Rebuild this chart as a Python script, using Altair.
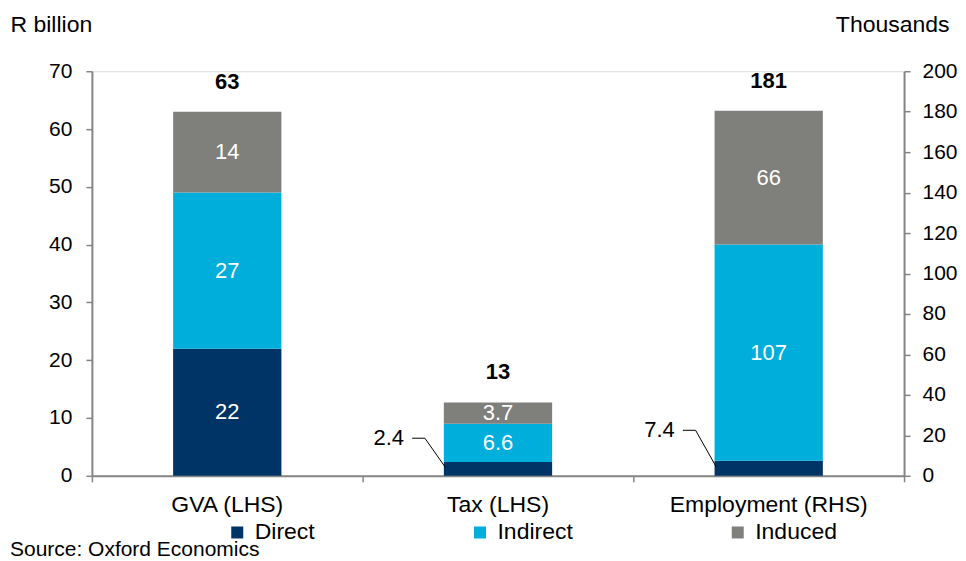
import altair as alt
import pandas as pd

# ---------------- data ----------------
categories = ["GVA (LHS)", "Tax (LHS)", "Employment (RHS)"]
components = ["Direct", "Indirect", "Induced"]
direct = [22, 2.4, 7.4]
indirect = [27, 6.6, 107]
induced = [14, 3.7, 66]
totals = [63, 13, 181]
axis_side = ["left", "left", "right"]
colors = ["#003366", "#00AEDB", "#7F7F7B"]
left_ticks = [0, 10, 20, 30, 40, 50, 60, 70]
right_ticks = [0, 20, 40, 60, 80, 100, 120, 140, 160, 180, 200]

# callout (leader-line) labels for thin "Direct" segments: label height in axis units
callout_y = {"Tax (LHS)": 6.5, "Employment (RHS)": 22.5}

FONT = "Liberation Sans"
GREY = "#858585"
BAR_HALF = 0.2
PLOT_W, PLOT_H = 813, 405

# ---------------- tables ----------------
series = [direct, indirect, induced]
rows = []
for i, cat in enumerate(categories):
    for j, comp in enumerate(components):
        v = series[j][i]
        rows.append({
            "category": cat, "idx": i, "component": comp, "order": j,
            "value": v, "label": f"{v:g}", "side": axis_side[i],
            "callout": bool(comp == "Direct" and cat in callout_y),
        })
seg = pd.DataFrame(rows)

tot = pd.DataFrame({
    "category": categories,
    "idx": list(range(len(categories))),
    "top": [direct[i] + indirect[i] + induced[i] for i in range(len(categories))],
    "label": [str(t) for t in totals],
    "side": axis_side,
})

cats = pd.DataFrame({"category": categories, "idx": list(range(len(categories))),
                     "base": [0] * len(categories)})

lead_rows, lab_rows = [], []
for cat, cy in callout_y.items():
    i = categories.index(cat)
    left = i + 0.5 - BAR_HALF
    pts = [(left - 0.117, cy), (left - 0.07, cy), (left + 0.006, direct[i] * 0.6)]
    for k, (lx, ly) in enumerate(pts):
        lead_rows.append({"category": cat, "k": k, "lx": lx, "ly": ly, "side": axis_side[i]})
    lab_rows.append({"category": cat, "tx": left - 0.147, "ty": cy,
                     "label": f"{direct[i]:g}", "side": axis_side[i]})
leads = pd.DataFrame(lead_rows)
labs = pd.DataFrame(lab_rows)

# ---------------- scales / axes ----------------
n = len(categories)
xscale = alt.Scale(domain=[0, n], nice=False, zero=False)
# x axis: domain line + ticks at the category boundaries (names drawn as text marks)
xaxis = alt.Axis(
    orient="bottom", values=list(range(n + 1)), labels=False, title=None,
    grid=False, tickSize=6, tickWidth=1.5, tickColor=GREY,
    domainColor=GREY, domainWidth=2,
)

color_scale = alt.Scale(domain=components, range=colors)
legend = alt.Legend(
    orient="none", legendX=134, legendY=450, direction="horizontal",
    title=None, symbolType="square", symbolSize=144,
    symbolStrokeWidth=0, symbolOpacity=1, labelFontSize=23,
    labelOffset=6, columnPadding=153, labelColor="black", labelFont=FONT,
)


def X(field):
    return alt.X(field, scale=xscale, axis=xaxis)


def side_layer(side, domain, ticks, orient, title, title_x, title_align, lab_pad):
    yscale = alt.Scale(domain=domain, nice=False, zero=True)
    yaxis = alt.Axis(
        orient=orient, values=ticks, title=title, titleAngle=0, titleX=title_x,
        titleY=-40, titleAlign=title_align, titleBaseline="alphabetic",
        titleFontSize=23, titleFontWeight="normal", titleColor="black",
        labelFontSize=21, labelColor="black", labelPadding=lab_pad,
        tickSize=6, tickWidth=1.5, tickColor=GREY, domainColor=GREY,
        domainWidth=2, grid=False,
    )

    def Y(field):
        # same axis definition on every layer of this side, so they merge into one axis
        return alt.Y(field, scale=yscale, axis=yaxis)

    base = (
        alt.Chart(seg)
        .transform_stack(stack="value", groupby=["category"], as_=["y0", "y1"],
                         sort=[alt.SortField("order", order="ascending")])
        .transform_filter(alt.datum.side == side)
        .transform_calculate(
            x0=f"datum.idx + 0.5 - {BAR_HALF}",
            x1=f"datum.idx + 0.5 + {BAR_HALF}",
            xc="datum.idx + 0.5",
            mid="(datum.y0 + datum.y1) / 2",
        )
    )
    bars = base.mark_bar().encode(
        x=X("x0:Q"), x2="x1:Q",
        y=Y("y0:Q"), y2="y1:Q",
        color=alt.Color("component:N", scale=color_scale, legend=legend),
    )
    seg_text = base.transform_filter(alt.datum.callout == False).mark_text(
        color="white", fontSize=22, baseline="middle", align="center", font=FONT
    ).encode(x=X("xc:Q"), y=Y("mid:Q"), text="label:N")
    tot_text = (
        alt.Chart(tot)
        .transform_filter(alt.datum.side == side)
        .transform_calculate(xc="datum.idx + 0.5")
        .mark_text(fontSize=22, fontWeight="bold", color="black", dy=-23,
                   baseline="alphabetic", align="center", font=FONT)
        .encode(x=X("xc:Q"), y=Y("top:Q"), text="label:N")
    )
    lead = (
        alt.Chart(leads)
        .transform_filter(alt.datum.side == side)
        .mark_line(color="black", strokeWidth=1)
        .encode(x=X("lx:Q"), y=Y("ly:Q"), order="k:Q", detail="category:N")
    )
    lab = (
        alt.Chart(labs)
        .transform_filter(alt.datum.side == side)
        .mark_text(fontSize=22, color="black", align="right", baseline="middle", font=FONT)
        .encode(x=X("tx:Q"), y=Y("ty:Q"), text="label:N")
    )
    parts = [bars, seg_text, tot_text, lead, lab]
    if side == "left":
        cat_text = (
            alt.Chart(cats)
            .transform_calculate(xc="datum.idx + 0.5")
            .mark_text(fontSize=23, color="black", align="center", baseline="middle",
                       dy=29, font=FONT)
            .encode(x=X("xc:Q"), y=Y("base:Q"), text="category:N")
        )
        parts.append(cat_text)
    return alt.layer(*parts)


left_layer = side_layer("left", [0, 70], left_ticks, "left", "R billion", -82, "left", 14)
right_layer = side_layer("right", [0, 200], right_ticks, "right", "Thousands", 45, "right", 12)

chart = (
    alt.layer(left_layer, right_layer)
    .resolve_scale(y="independent")
    .properties(
        width=PLOT_W, height=PLOT_H,
        padding={"left": 2, "top": 5, "right": 0, "bottom": 0},
        title=alt.TitleParams(
            "Source: Oxford Economics", orient="bottom", anchor="start",
            frame="bounds", fontSize=21, fontWeight="normal", color="black",
            font=FONT, offset=-6,
        ),
    )
    .configure_view(strokeWidth=0, stroke="transparent")
    .configure(font=FONT)
)

chart.save("out.html", embed_options={"renderer": "svg", "actions": False})
